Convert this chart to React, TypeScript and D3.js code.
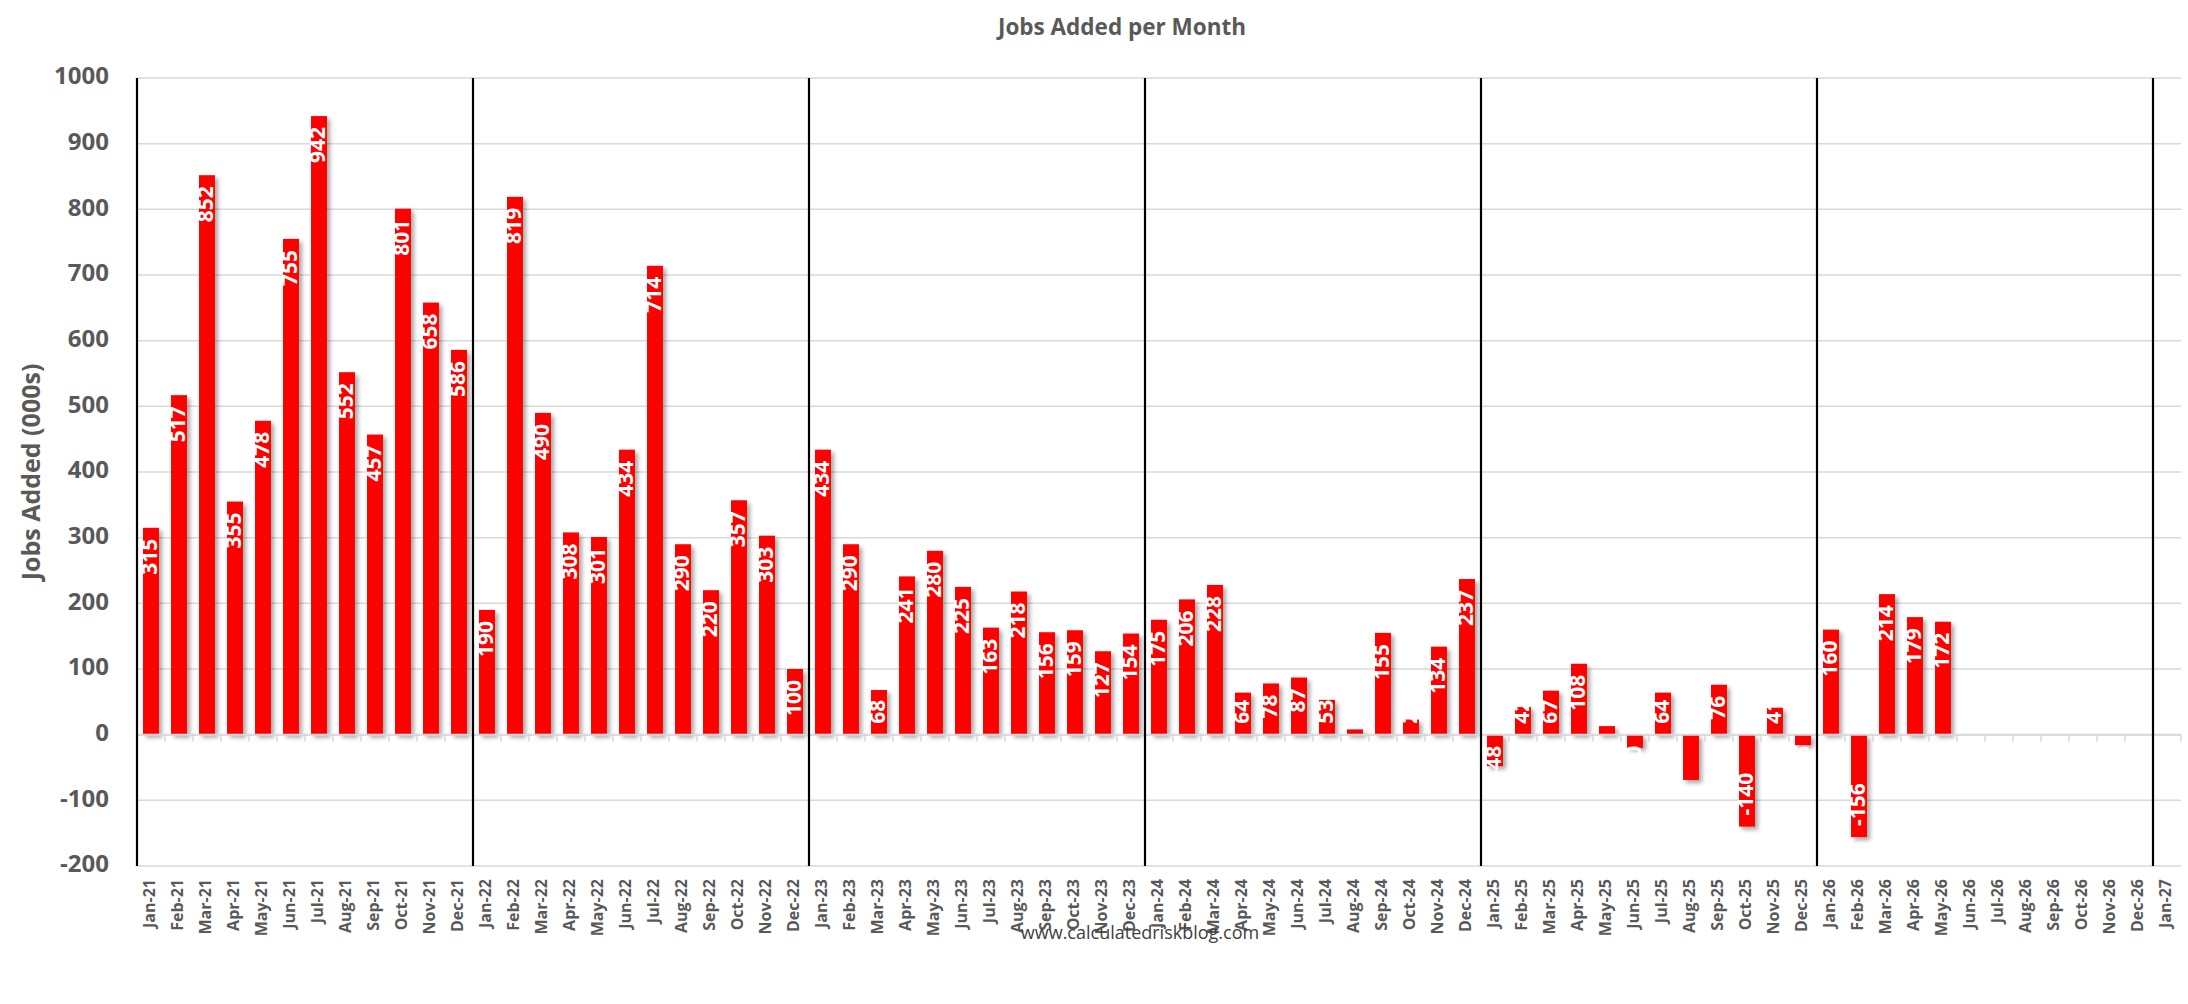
import React, { useRef, useEffect } from "react";
import * as d3 from "d3";

const monthNames = ["Jan", "Feb", "Mar", "Apr", "May", "Jun", "Jul", "Aug", "Sep", "Oct", "Nov", "Dec"];
const years = ["21", "22", "23", "24", "25", "26"];
const categories = [...years.flatMap((yr) => monthNames.map((m) => `${m}-${yr}`)), "Jan-27"];

// Jobs added (000s), Jan-21 .. May-26
const jobsAdded = [
  315, 517, 852, 355, 478, 755, 942, 552, 457, 801, 658, 586,
  190, 819, 490, 308, 301, 434, 714, 290, 220, 357, 303, 100,
  434, 290, 68, 241, 280, 225, 163, 218, 156, 159, 127, 154,
  175, 206, 228, 64, 78, 87, 53, 8, 155, 23, 134, 237,
  -48, 42, 67, 108, 13, -20, 64, -69, 76, -140, 41, -16,
  160, -156, 214, 179, 172,
];
const unlabeled = ["Aug-25"];
const yTicks = [-200, -100, 0, 100, 200, 300, 400, 500, 600, 700, 800, 900, 1000];

const FONT = "'Open Sans', 'Liberation Sans', sans-serif";
const GREY = "#595959";

export default function App() {
  const svgRef = useRef<SVGSVGElement>(null);

  useEffect(() => {
    document.body.style.margin = "0";
    if (!svgRef.current) return;
    const svg = d3.select(svgRef.current);
    svg.selectAll("*").remove();

    const width = 2188;
    const height = 1004;
    const left = 137, right = 2181, top = 78, bottom = 866;

    svg.attr("width", width).attr("height", height).attr("viewBox", `0 0 ${width} ${height}`);
    svg.append("rect").attr("width", width).attr("height", height).attr("fill", "#fff");

    const defs = svg.append("defs");
    const f = defs.append("filter").attr("id", "shadow").attr("x", "-50%").attr("y", "-20%").attr("width", "200%").attr("height", "140%");
    f.append("feDropShadow")
      .attr("dx", 3).attr("dy", 3).attr("stdDeviation", 2.2)
      .attr("flood-color", "#000").attr("flood-opacity", 0.35);

    const x = d3.scaleBand<string>().domain(categories).range([left, right]).paddingInner(0.43).paddingOuter(0.215);
    const y = d3.scaleLinear().domain([-200, 1000]).range([bottom, top]);
    const half = (x.step() - x.bandwidth()) / 2;

    // Title
    svg.append("text")
      .attr("x", 1122).attr("y", 29)
      .attr("text-anchor", "middle").attr("dominant-baseline", "middle")
      .attr("fill", GREY).attr("font-family", FONT).attr("font-weight", 700).attr("font-size", "22.5px")
      .text("Jobs Added per Month");

    // Grid
    svg.append("g").selectAll("line").data(yTicks).enter().append("line")
      .attr("x1", left).attr("x2", right)
      .attr("y1", (d) => y(d)).attr("y2", (d) => y(d))
      .attr("stroke", "#d9d9d9").attr("stroke-width", 1.5);

    // Y tick labels
    svg.append("g").selectAll("text").data(yTicks).enter().append("text")
      .attr("x", 109).attr("y", (d) => y(d))
      .attr("text-anchor", "end").attr("dominant-baseline", "middle")
      .attr("fill", GREY).attr("font-family", FONT).attr("font-weight", 700).attr("font-size", "24px")
      .text((d) => String(d));

    // Y axis title
    svg.append("text")
      .attr("transform", `translate(33,${(top + bottom) / 2}) rotate(-90)`)
      .attr("text-anchor", "middle").attr("dominant-baseline", "middle")
      .attr("fill", GREY).attr("font-family", FONT).attr("font-weight", 700).attr("font-size", "25px")
      .text("Jobs Added (000s)");

    const data = jobsAdded.map((v, i) => ({ label: categories[i], value: v }));

    // Bars
    svg.append("g").attr("filter", "url(#shadow)")
      .selectAll("rect").data(data).enter().append("rect")
      .attr("x", (d) => x(d.label) || 0)
      .attr("width", x.bandwidth())
      .attr("y", (d) => y(Math.max(0, d.value)))
      .attr("height", (d) => Math.abs(y(d.value) - y(0)))
      .attr("fill", "#ff0000");

    // X axis line + boundary ticks
    const y0 = y(0);
    const axis = svg.append("g");
    axis.append("line").attr("x1", left).attr("x2", right).attr("y1", y0).attr("y2", y0)
      .attr("stroke", "#d9d9d9").attr("stroke-width", 2);
    const bounds = categories.map((c) => (x(c) || 0) - half).concat([right]);
    axis.selectAll("line.tick").data(bounds).enter().append("line")
      .attr("class", "tick")
      .attr("x1", (d) => d).attr("x2", (d) => d)
      .attr("y1", y0).attr("y2", y0 + 7)
      .attr("stroke", "#d9d9d9").attr("stroke-width", 1.5);

    // Year separators
    svg.append("g").selectAll("line")
      .data(categories.filter((c) => c.startsWith("Jan")))
      .enter().append("line")
      .attr("x1", (d) => (x(d) || 0) - half).attr("x2", (d) => (x(d) || 0) - half)
      .attr("y1", top).attr("y2", bottom)
      .attr("stroke", "#000").attr("stroke-width", 2.2);

    // Data labels (inside end, clamped to the base when they don't fit)
    const pad = 11;
    const labels = svg.append("g");
    data.filter((d) => !unlabeled.includes(d.label)).forEach((d) => {
      const cx = (x(d.label) || 0) + x.bandwidth() / 2;
      const t = labels.append("text")
        .attr("fill", "#fff").attr("font-family", FONT).attr("font-weight", 700).attr("font-size", "21px")
        .attr("dominant-baseline", "middle")
        .text(String(d.value));
      const len = (t.node() as SVGTextElement).getComputedTextLength();
      let ty: number;
      let anchor: string;
      if (d.value >= 0) {
        const endY = y(d.value) + pad;
        if (endY + len > y0 - pad) { ty = y0 - pad; anchor = "start"; }
        else { ty = endY; anchor = "end"; }
      } else {
        const startY = y(d.value) - pad;
        if (startY - len < y0 + pad) { ty = y0 + pad; anchor = "end"; }
        else { ty = startY; anchor = "start"; }
      }
      t.attr("text-anchor", anchor).attr("transform", `translate(${cx},${ty}) rotate(-90)`);
    });

    // X tick labels
    svg.append("g").selectAll("text").data(categories).enter().append("text")
      .attr("transform", (d) => `translate(${(x(d) || 0) + x.bandwidth() / 2},879) rotate(-90)`)
      .attr("text-anchor", "end").attr("dominant-baseline", "middle")
      .attr("fill", GREY).attr("font-family", FONT).attr("font-weight", 700).attr("font-size", "16px")
      .text((d) => d);

    // Source
    svg.append("text")
      .attr("x", 1140).attr("y", 934)
      .attr("text-anchor", "middle").attr("dominant-baseline", "middle")
      .attr("fill", "#404040").attr("font-family", FONT).attr("font-size", "18px")
      .text("www.calculatedriskblog.com");
  }, []);

  return <svg ref={svgRef} style={{ display: "block" }} />;
}
